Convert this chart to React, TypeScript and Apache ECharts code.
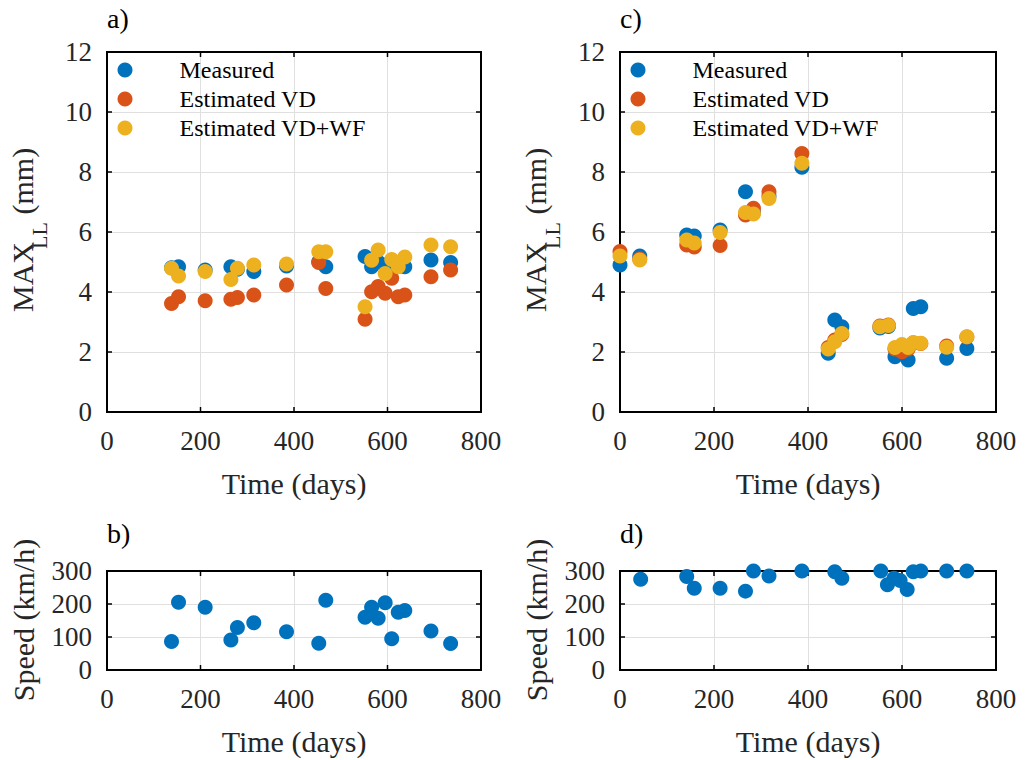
import React, { useEffect, useRef } from "react";
import * as echarts from "echarts";

// ---------- data ----------
const seriesNames = ["Measured", "Estimated VD", "Estimated VD+WF"];
const colors = ["#0072BD", "#D95319", "#EDB120"];

// panel a
const daysA = [138, 153, 210, 265, 279, 314, 384, 453, 468, 552, 566, 580, 595, 609, 623, 637, 693, 735];
const measuredA = [4.81, 4.84, 4.73, 4.84, 4.76, 4.68, 4.87, 5.01, 4.84, 5.18, 4.84, 5.0, 4.9, 4.95, 4.85, 4.84, 5.07, 4.98];
const vdA = [3.62, 3.84, 3.71, 3.76, 3.82, 3.9, 4.23, 4.98, 4.12, 3.09, 4.01, 4.18, 3.96, 4.46, 3.84, 3.9, 4.51, 4.73];
const vdwfA = [4.79, 4.53, 4.68, 4.42, 4.79, 4.9, 4.93, 5.34, 5.34, 3.51, 5.06, 5.4, 4.62, 5.08, 4.84, 5.17, 5.57, 5.51];

// panel b
const speedB = [86, 205, 190, 91, 129, 143, 116, 81, 211, 160, 190, 157, 204, 95, 175, 180, 118, 80];

// panel c
const daysC = [0, 42, 142, 158, 213, 267, 284, 317, 387, 443, 457, 472, 553, 571, 585, 600, 613, 624, 640, 695, 738];
const measuredC = [4.9, 5.2, 5.9, 5.87, 6.07, 7.34, 6.65, 7.2, 8.16, 1.96, 3.07, 2.84, 2.8, 2.85, 1.84, 1.95, 1.73, 3.45, 3.51, 1.79, 2.12];
const vdC = [5.35, 5.1, 5.57, 5.5, 5.55, 6.57, 6.79, 7.34, 8.62, 2.15, 2.4, 2.58, 2.87, 2.9, 2.1, 2.01, 2.1, 2.3, 2.28, 2.2, 2.5];
const vdwfC = [5.2, 5.07, 5.73, 5.63, 5.98, 6.65, 6.6, 7.12, 8.29, 2.1, 2.34, 2.62, 2.84, 2.88, 2.15, 2.25, 2.15, 2.32, 2.29, 2.16, 2.51];

// panel d
const daysD = [44, 142, 158, 213, 267, 284, 317, 387, 457, 472, 555, 569, 583, 596, 611, 624, 640, 695, 738];
const speedD = [275, 283, 248, 248, 239, 300, 285, 300, 298, 278, 300, 258, 278, 271, 244, 298, 300, 300, 300];

// axes ticks
const xMin = 0, xMax = 800, xStep = 200;
const mmMin = 0, mmMax = 12, mmStep = 2;
const spMin = 0, spMax = 300, spStep = 100;
const xTickVals = [0, 200, 400, 600, 800];
const mmTickVals = [0, 2, 4, 6, 8, 10, 12];
const spTickVals = [0, 100, 200, 300];

const FONT = "Liberation Serif, DejaVu Serif, serif";
const INK = "#262626";

const zip = (xs: number[], ys: number[]) => xs.map((x, i) => [x, ys[i]]);

// grid order: b, d first, then a, c
const GB = 0, GD = 1, GA = 2, GC = 3;

export default function App() {
  const ref = useRef<HTMLDivElement>(null);

  useEffect(() => {
    if (!ref.current) return;
    const chart = echarts.init(ref.current, undefined, { renderer: "svg" });

    const grids = [
      { left: 107, top: 571, width: 374, height: 99 }, // b
      { left: 620, top: 571, width: 376, height: 99 }, // d
      { left: 107, top: 52, width: 374, height: 360 }, // a
      { left: 620, top: 52, width: 376, height: 360 }, // c
    ];
    const isMMGrid = (gi: number) => gi === GA || gi === GC;

    const split = () => ({ show: true, lineStyle: { color: "#e0e0e0", width: 1 } });
    const label = () => ({ show: true, color: INK, fontSize: 27, fontFamily: FONT, margin: 15 });

    const xAxes: any[] = [];
    const yAxes: any[] = [];
    grids.forEach((_, gi) => {
      const isMM = isMMGrid(gi);
      xAxes.push({
        type: "value", gridIndex: gi, position: "bottom", min: xMin, max: xMax, interval: xStep,
        axisLine: { show: false }, axisTick: { show: false }, splitLine: split(), axisLabel: label(),
        name: "Time (days)", nameLocation: "middle", nameGap: 56,
        nameTextStyle: { color: INK, fontSize: 30, fontFamily: FONT },
      });
      yAxes.push({
        type: "value", gridIndex: gi, position: "left",
        min: isMM ? mmMin : spMin, max: isMM ? mmMax : spMax, interval: isMM ? mmStep : spStep,
        axisLine: { show: false }, axisTick: { show: false }, splitLine: split(), axisLabel: label(),
      });
    });

    // axes box with inward ticks, drawn through the grid's own scales
    const boxSeries = (gi: number) => {
      const isMM = isMMGrid(gi);
      const yMin = isMM ? mmMin : spMin;
      const yMax = isMM ? mmMax : spMax;
      const yTicks = isMM ? mmTickVals : spTickVals;
      return {
        type: "custom", name: "box" + gi, xAxisIndex: gi, yAxisIndex: gi, z: 1, clip: false, silent: true,
        data: [[xMin, yMin]],
        renderItem: (_p: any, api: any) => {
          const p0 = api.coord([xMin, yMin]);
          const p1 = api.coord([xMax, yMax]);
          const L = p0[0], B = p0[1], R = p1[0], T = p1[1];
          const st = { stroke: "#000", lineWidth: 1.5, fill: null };
          const bs = { stroke: "#000", lineWidth: 2, fill: null };
          const kids: any[] = [
            { type: "line", shape: { x1: L, y1: T, x2: R, y2: T }, style: bs },
            { type: "line", shape: { x1: L, y1: B, x2: R, y2: B }, style: bs },
            { type: "line", shape: { x1: L, y1: T, x2: L, y2: B }, style: bs },
            { type: "line", shape: { x1: R, y1: T, x2: R, y2: B }, style: bs },
          ];
          const tl = 5;
          xTickVals.forEach((v) => {
            const x = api.coord([v, yMin])[0];
            kids.push({ type: "line", shape: { x1: x, y1: B, x2: x, y2: B - tl }, style: st });
            kids.push({ type: "line", shape: { x1: x, y1: T, x2: x, y2: T + tl }, style: st });
          });
          yTicks.forEach((v) => {
            const y = api.coord([xMin, v])[1];
            kids.push({ type: "line", shape: { x1: L, y1: y, x2: L + tl, y2: y }, style: st });
            kids.push({ type: "line", shape: { x1: R, y1: y, x2: R - tl, y2: y }, style: st });
          });
          return { type: "group", children: kids };
        },
      };
    };

    const scatter = (name: string, color: string, data: number[][], gi: number) => ({
      type: "scatter", name, data, xAxisIndex: gi, yAxisIndex: gi, z: 2,
      symbol: "circle", symbolSize: 15, clip: false,
      itemStyle: { color, opacity: 1 },
    });

    const series = [
      boxSeries(GA), boxSeries(GC), boxSeries(GB), boxSeries(GD),
      scatter(seriesNames[0], colors[0], zip(daysA, measuredA), GA),
      scatter(seriesNames[1], colors[1], zip(daysA, vdA), GA),
      scatter(seriesNames[2], colors[2], zip(daysA, vdwfA), GA),
      scatter(seriesNames[0], colors[0], zip(daysC, measuredC), GC),
      scatter(seriesNames[1], colors[1], zip(daysC, vdC), GC),
      scatter(seriesNames[2], colors[2], zip(daysC, vdwfC), GC),
      scatter("Speed b", colors[0], zip(daysA, speedB), GB),
      scatter("Speed d", colors[0], zip(daysD, speedD), GD),
    ];

    const legend = (left: number) => ({
      data: seriesNames.map((n) => ({ name: n, icon: "circle" })),
      orient: "vertical", left, top: 58, padding: 0,
      itemWidth: 15, itemHeight: 15, itemGap: 5,
      selectedMode: false,
      textStyle: { color: "#000", fontSize: 24, lineHeight: 24, fontFamily: FONT, padding: [0, 0, 0, 42] },
    });

    const panelLabel = (text: string, x: number, y: number) => ({
      type: "text", x, y,
      style: { text, fill: "#000", fontSize: 28, fontFamily: FONT, align: "left", verticalAlign: "middle" },
    });

    // plot frames (layout only), matching the grid rectangles
    const frame = (g: { left: number; top: number; width: number; height: number }) => ({
      type: "rect", z: 1, silent: true,
      shape: { x: g.left, y: g.top, width: g.width, height: g.height },
      style: { fill: "transparent", stroke: "#000", lineWidth: 2 },
    });

    const mmName = (x: number) => ({
      type: "group", x, y: 232, rotation: Math.PI / 2,
      children: [
        { type: "text", x: -80, y: 0, style: { text: "MAX", fill: INK, fontSize: 30, fontFamily: FONT, align: "left", verticalAlign: "middle" } },
        { type: "text", x: -17, y: 17, style: { text: "LL", fill: INK, fontSize: 22, fontFamily: FONT, align: "left", verticalAlign: "middle" } },
        { type: "text", x: 10, y: 0, style: { text: " (mm)", fill: INK, fontSize: 30, fontFamily: FONT, align: "left", verticalAlign: "middle" } },
      ],
    });

    const spName = (x: number) => ({
      type: "text", x, y: 620, rotation: Math.PI / 2,
      style: { text: "Speed (km/h)", fill: INK, fontSize: 30, fontFamily: FONT, align: "center", verticalAlign: "middle" },
    });

    chart.setOption({
      animation: false,
      backgroundColor: "#ffffff",
      grid: grids,
      xAxis: xAxes,
      yAxis: yAxes,
      legend: [legend(117.5), legend(630.5)],
      series,
      graphic: [
        ...grids.map(frame),
        panelLabel("a)", 107, 18),
        panelLabel("b)", 107, 533),
        panelLabel("c)", 620, 18),
        panelLabel("d)", 620, 533),
        mmName(22),
        mmName(535),
        spName(23),
        spName(536),
      ],
    });

    return () => chart.dispose();
  }, []);

  return <div ref={ref} style={{ position: "absolute", left: 0, top: 0, width: 1025, height: 760 }} />;
}
